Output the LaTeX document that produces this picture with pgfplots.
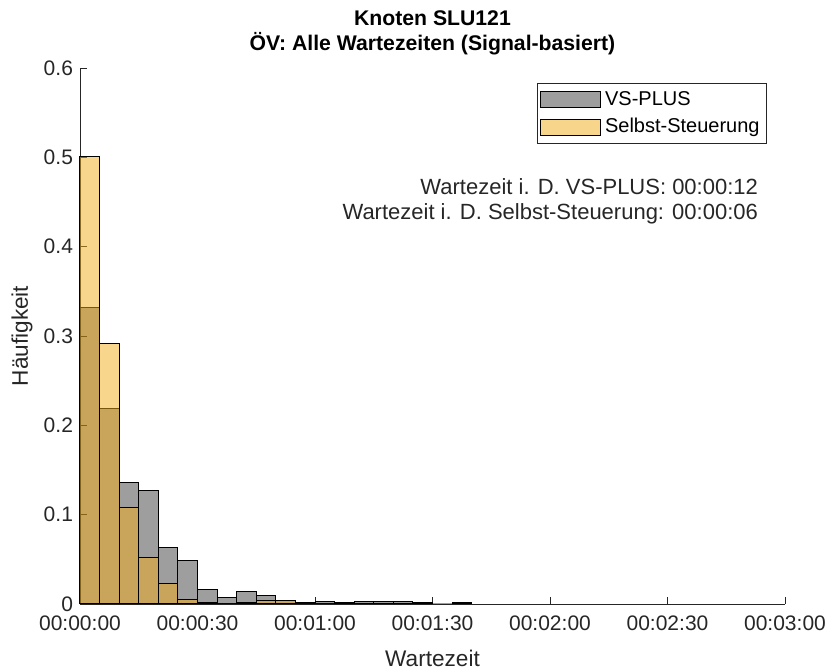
\documentclass[border=0pt]{standalone}
\usepackage{pgfplots}
\pgfplotsset{compat=1.18}
\usepackage{fontspec}
\setmainfont{Liberation Sans}

\definecolor{axgray}{RGB}{38,38,38}
\definecolor{selbst}{RGB}{241,173,25}

% bin width 5 s, last row closes the final interval
\pgfplotstableread{
x y
0 0.332
5 0.219
10 0.1365
15 0.127
20 0.063
25 0.049
30 0.0157
35 0.0075
40 0.0135
45 0.010
50 0.004
55 0.0022
60 0.003
65 0.002
70 0.0025
75 0.0025
80 0.0025
85 0.002
90 0
95 0.002
100 0
}\vsplus

\pgfplotstableread{
x y
0 0.501
5 0.2915
10 0.1077
15 0.0517
20 0.0225
25 0.005
30 0.002
35 0
40 0.002
45 0.004
50 0.004
55 0
60 0
65 0.002
70 0
}\selbststeuerung

\begin{document}
\begin{tikzpicture}
\begin{axis}[
  scale only axis,
  width=352.5pt, height=268pt,
  xmin=0, xmax=180, ymin=0, ymax=0.6,
  axis x line*=bottom, axis y line*=left,
  axis line style={axgray, line width=0.4pt, -},
  xtick={0,30,60,90,120,150,180},
  xticklabels={00:00:00,00:00:30,00:01:00,00:01:30,00:02:00,00:02:30,00:03:00},
  ytick={0,0.1,0.2,0.3,0.4,0.5,0.6},
  yticklabels={0,0.1,0.2,0.3,0.4,0.5,0.6},
  tick align=inside,
  major tick length=3.5pt,
  tick style={axgray, line width=0.4pt},
  ticklabel style={font=\fontsize{10.5}{12}\selectfont, text=axgray},
  xticklabel style={yshift=-2.5pt},
  xlabel={Wartezeit},
  ylabel={Häufigkeit},
  label style={font=\fontsize{11.3}{13}\selectfont, text=axgray},
  xlabel style={at={(axis description cs:0.5,-0.1007)}, anchor=center},
  ylabel style={at={(axis description cs:-0.0823,0.5)}, anchor=center},
  legend style={at={(rel axis cs:0.9745,0.972)}, anchor=north east,
    draw=axgray, line width=0.4pt, font=\fontsize{10}{12}\selectfont,
    inner xsep=1.5pt, inner ysep=2pt, row sep=1pt, cells={anchor=west}},
  legend image code/.code={\draw[#1, line width=0.4pt] (0pt,-4pt) rectangle (30pt,4pt);},
  clip=false,
]
\addplot[ybar interval, draw=black, line width=0.5pt, fill=black, fill opacity=0.38]
  table[x=x, y=y] {\vsplus};
\addlegendentry{VS-PLUS}
\addplot[ybar interval, draw=black, line width=0.5pt, fill=selbst, fill opacity=0.5]
  table[x=x, y=y] {\selbststeuerung};
\addlegendentry{Selbst-Steuerung}

\node[anchor=east, font=\fontsize{11}{13}\selectfont, text=axgray]
  at (rel axis cs:0.9716,0.778) {Wartezeit i. D. VS-PLUS: 00:00:12};
\node[anchor=east, font=\fontsize{11}{13}\selectfont, text=axgray]
  at (rel axis cs:0.9716,0.7276) {Wartezeit i. D. Selbst-Steuerung: 00:00:06};

\node[font=\bfseries\fontsize{10.6}{13}\selectfont, text=black]
  at (rel axis cs:0.5,1.0933) {Knoten SLU121};
\node[font=\bfseries\fontsize{10.6}{13}\selectfont, text=black]
  at (rel axis cs:0.5,1.0448) {ÖV: Alle Wartezeiten (Signal-basiert)};

\coordinate (bbsw) at (rel axis cs:0,0);
\coordinate (bbne) at (rel axis cs:1,1);
\end{axis}
\pgfresetboundingbox
\path[use as bounding box] ([xshift=-40pt,yshift=-33pt]bbsw) rectangle ([xshift=22.5pt,yshift=34pt]bbne);
\end{tikzpicture}
\end{document}
